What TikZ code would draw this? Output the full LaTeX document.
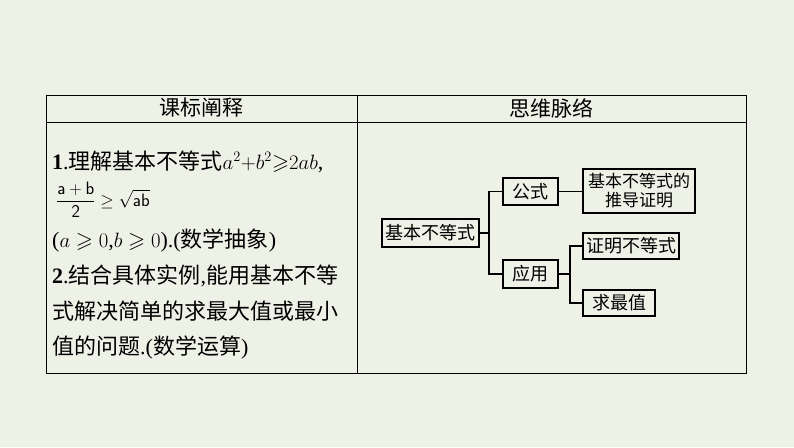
\documentclass[tikz,border=0pt]{standalone}
\usepackage{amsmath,amssymb}
\usepackage{fontspec}
\newfontfamily\cjk{Noto Sans CJK SC}
\setmainfont{Liberation Serif}
\definecolor{bg}{HTML}{EEF1E6}
\begin{document}
\begin{tikzpicture}[x=1pt,y=-1pt,
  box/.style={draw,line width=1.1pt,inner sep=2pt,font=\cjk\fontsize{18}{21}\selectfont,align=center},
  ln/.style={line width=1.1pt},
  txt/.style={anchor=base west,inner sep=0pt,font=\fontsize{22}{26}\selectfont}]
\fill[bg] (0,0) rectangle (794,447);
\useasboundingbox (0,0) rectangle (794,447);
\draw[line width=0.8pt] (46,95) rectangle (746,373);
\draw[line width=0.8pt] (46,122) -- (746,122) (357,95) -- (357,373);
\node[font=\cjk\fontsize{21}{24}\selectfont] (h1) at (201,108) {课标阐释};
\node[font=\cjk\fontsize{21}{24}\selectfont] (h2) at (551,108) {思维脉络};
\node[txt] (l1) at (52,169) {\textbf{1}.{\cjk 理解基本不等式}$a^2{+}b^2{\geqslant}2ab$,};
\node[txt,font=\fontsize{18}{21}\selectfont] (l2) at (56,206) {$\dfrac{\mathsf{a+b}}{\mathsf{2}}\geq\sqrt{\mathsf{ab}}$};
\node[txt] (l3) at (52,247) {($a\geqslant0$,$b\geqslant0$).({\cjk 数学抽象})};
\node[txt] (l4) at (52,283) {\textbf{2}.{\cjk 结合具体实例},{\cjk 能用基本不等}};
\node[txt] (l5) at (52,319) {\cjk 式解决简单的求最大值或最小};
\node[txt] (l6) at (52,354) {{\cjk 值的问题}.({\cjk 数学运算})};
\node[box,minimum width=97,minimum height=28] (r) at (430.5,233) {基本不等式};
\node[box,minimum width=55,minimum height=27] (a) at (530.5,191.5) {公式};
\node[box,minimum width=55,minimum height=28] (b) at (530.5,274) {应用};
\node[box,minimum width=112,minimum height=44,inner sep=0pt,font=\cjk\fontsize{17}{19}\selectfont] (a1) at (639,191) {基本不等式的\\推导证明};
\node[box,minimum width=96,minimum height=26] (b1) at (631,246) {证明不等式};
\node[box,minimum width=72,minimum height=26] (b2) at (619,303) {求最值};
\coordinate (j1) at (489,233);
\coordinate (j2) at (570,274);
\draw[ln] (r.east) -- (j1);
\draw[ln] (a.west) -| (j1) |- (b.west);
\draw[ln] (a.east) -- (a1.west |- a.east);
\draw[ln] (b.east) -- (j2);
\draw[ln] (b1.west) -| (j2) |- (b2.west);
\end{tikzpicture}
\end{document}
